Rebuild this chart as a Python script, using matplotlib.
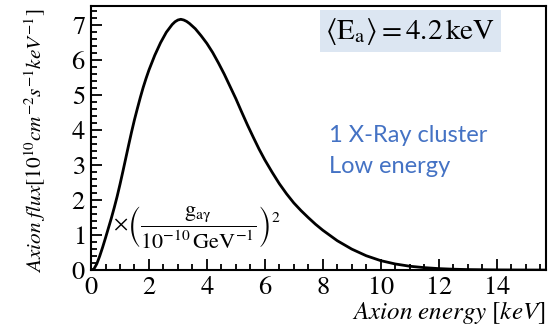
import matplotlib
matplotlib.use('Agg')
import matplotlib.pyplot as plt
from matplotlib.ticker import MultipleLocator, FuncFormatter

# values
energy = [0.0, 0.1, 0.2, 0.3, 0.4, 0.5, 0.6, 0.7, 0.8, 0.9, 1.0, 1.1, 1.2, 1.3,
          1.4, 1.5, 1.6, 1.7, 1.8, 1.9, 2.0, 2.2, 2.4, 2.6, 2.8, 2.9, 3.0, 3.1,
          3.2, 3.3, 3.4, 3.6, 3.8, 4.0, 4.2, 4.4, 4.6, 4.8, 5.0, 5.2, 5.4, 5.6,
          5.8, 6.0, 6.25, 6.5, 6.75, 7.0, 7.25, 7.5, 7.75, 8.0, 8.5, 9.0, 9.5,
          10.0, 10.5, 11.0, 11.5, 12.0, 12.5, 13.0, 14.0, 15.0, 15.7]
flux = [0.0, 0.03, 0.18, 0.4, 0.65, 0.92, 1.2, 1.48, 1.78, 2.1, 2.45, 2.82, 3.2,
        3.58, 3.95, 4.3, 4.62, 4.93, 5.22, 5.48, 5.72, 6.14, 6.5, 6.8, 7.02, 7.1,
        7.15, 7.17, 7.15, 7.11, 7.05, 6.9, 6.7, 6.48, 6.22, 5.92, 5.6, 5.25, 4.9,
        4.52, 4.15, 3.8, 3.46, 3.15, 2.8, 2.47, 2.18, 1.92, 1.7, 1.5, 1.31, 1.14,
        0.84, 0.6, 0.41, 0.27, 0.175, 0.11, 0.07, 0.042, 0.025, 0.014, 0.005,
        0.002, 0.0]

plt.rcParams['font.family'] = ['STIXGeneral', 'DejaVu Serif']
plt.rcParams['mathtext.fontset'] = 'stix'

fig = plt.figure(figsize=(5.53, 3.25), dpi=100)
ax = fig.add_axes([0.1646, 0.169, 0.8224, 0.8125])

ax.plot(energy, flux, color='black', lw=2)

ax.set_xlim(0, 15.7)
ax.set_ylim(0, 7.55)
ax.xaxis.set_major_locator(MultipleLocator(2))
ax.xaxis.set_minor_locator(MultipleLocator(0.5))
ax.yaxis.set_major_locator(MultipleLocator(1))
ax.yaxis.set_minor_locator(MultipleLocator(0.2))
# tick labels as mathtext so they come out in the serif stix face
num_fmt = FuncFormatter(lambda v, p: r'$\mathrm{%g}$' % v)
ax.xaxis.set_major_formatter(num_fmt)
ax.yaxis.set_major_formatter(num_fmt)
ax.tick_params(which='both', direction='in', top=False, right=False,
               labelsize=19, width=1.3)
ax.tick_params(which='major', length=8, pad=4)
ax.tick_params(which='minor', length=4)
for s in ax.spines.values():
    s.set_linewidth(1.5)

ax.set_ylabel(r'$Axion\ flux[10^{10}cm^{-2}s^{-1}keV^{-1}]$', fontsize=15.3, labelpad=5)
ax.yaxis.set_label_coords(-0.094, 0.49)
ax.set_xlabel(r'$Axion\ energy\ [keV]$', fontsize=18)
ax.xaxis.set_label_coords(1.0, -0.108)
ax.xaxis.label.set_horizontalalignment('right')
ax.xaxis.label.set_verticalalignment('top')

ax.text(0.515, 0.905, r'$\left\langle \mathrm{E}_{\mathrm{a}} \right\rangle = 4.2\,\mathrm{keV}$',
        transform=ax.transAxes, fontsize=21, va='center', ha='left',
        bbox=dict(facecolor='#dce6f2', edgecolor='none', pad=4))

ax.text(0.524, 0.45, '1 X-Ray cluster\nLow energy', transform=ax.transAxes,
        fontsize=17, color='#4472c4', family='Lato', va='center', ha='left',
        linespacing=1.6)

ax.text(0.232, 0.163, r'$\times\left(\dfrac{\mathrm{g}_{\mathrm{a\gamma}}}{10^{-10}\,\mathrm{GeV}^{-1}}\right)^2$',
        transform=ax.transAxes, fontsize=16, va='center', ha='center')

fig.savefig('out.png', dpi=100)
